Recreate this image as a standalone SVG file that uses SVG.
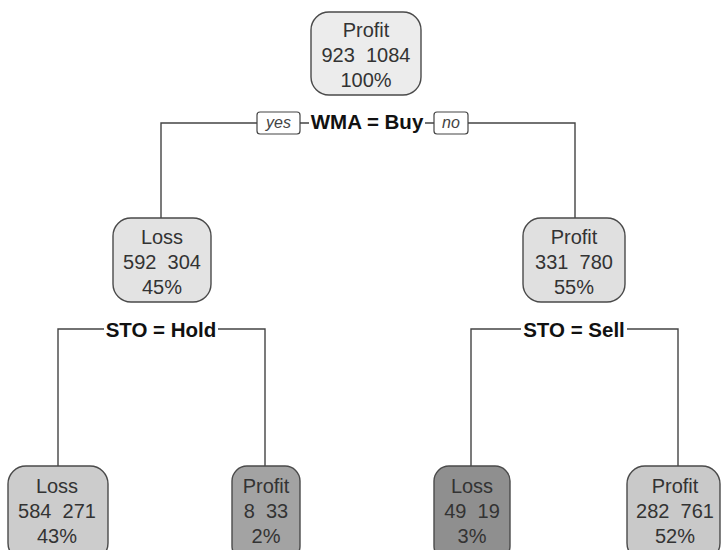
<svg xmlns="http://www.w3.org/2000/svg" width="721" height="550" viewBox="0 0 721 550">
<style>
.box{stroke:#4a4a4a;stroke-width:1.4}
.t{font-family:"Liberation Sans",Arial,sans-serif;font-size:20px;fill:#333;text-anchor:middle;white-space:pre}
.s{font-family:"Liberation Sans",Arial,sans-serif;font-size:20.5px;font-weight:bold;fill:#111;text-anchor:middle}
.yn{font-family:"Liberation Sans",Arial,sans-serif;font-size:16px;font-style:italic;fill:#444;text-anchor:middle}
.e{fill:none;stroke:#444;stroke-width:1.4}
</style>
<rect width="721" height="550" fill="#fff"/>
<g id="connectors">
<path class="e" d="M161,218 V123 H257 M300,123 H309 M425,123 H434 M468,123 H575 V218"/>
<path class="e" d="M58,466 V329 H104 M218,329 H265 V466"/>
<path class="e" d="M471,466 V329 H521 M627,329 H678 V466"/>
<rect x="257" y="112" width="43" height="22" rx="3" fill="#fff" stroke="#444" stroke-width="1.2"/>
<text class="yn" x="278.5" y="128">yes</text>
<rect x="434" y="112" width="34" height="22" rx="3" fill="#fff" stroke="#444" stroke-width="1.2"/>
<text class="yn" x="451" y="128">no</text>
<text class="s" x="367" y="129">WMA = Buy</text>
<text class="s" x="161" y="337">STO = Hold</text>
<text class="s" x="574" y="337">STO = Sell</text>
</g>
<g id="n1">
<rect class="box" x="311" y="12" width="110" height="83" rx="18" fill="#ececec"/>
<text class="t" x="366" y="37">Profit</text>
<text class="t" x="366" y="62" xml:space="preserve">923  1084</text>
<text class="t" x="366" y="87">100%</text>
</g>
<g id="n2">
<rect class="box" x="113" y="218" width="98" height="84" rx="18" fill="#e3e3e3"/>
<text class="t" x="162" y="244">Loss</text>
<text class="t" x="162" y="269" xml:space="preserve">592  304</text>
<text class="t" x="162" y="294">45%</text>
</g>
<g id="n3">
<rect class="box" x="523" y="218" width="102" height="84" rx="18" fill="#e0e0e0"/>
<text class="t" x="574" y="244">Profit</text>
<text class="t" x="574" y="269" xml:space="preserve">331  780</text>
<text class="t" x="574" y="294">55%</text>
</g>
<g id="n4">
<rect class="box" x="8" y="466" width="100" height="95" rx="18" fill="#cccccc"/>
<text class="t" x="57" y="493">Loss</text>
<text class="t" x="57" y="518" xml:space="preserve">584  271</text>
<text class="t" x="57" y="543">43%</text>
</g>
<g id="n5">
<rect class="box" x="232" y="466" width="68" height="95" rx="15" fill="#a3a3a3"/>
<text class="t" x="266" y="493">Profit</text>
<text class="t" x="266" y="518" xml:space="preserve">8  33</text>
<text class="t" x="266" y="543">2%</text>
</g>
<g id="n6">
<rect class="box" x="434" y="466" width="76" height="95" rx="15" fill="#8f8f8f"/>
<text class="t" x="472" y="493">Loss</text>
<text class="t" x="472" y="518" xml:space="preserve">49  19</text>
<text class="t" x="472" y="543">3%</text>
</g>
<g id="n7">
<rect class="box" x="627" y="466" width="93" height="95" rx="18" fill="#c9c9c9"/>
<text class="t" x="675" y="493">Profit</text>
<text class="t" x="675" y="518" xml:space="preserve">282  761</text>
<text class="t" x="675" y="543">52%</text>
</g>
</svg>
